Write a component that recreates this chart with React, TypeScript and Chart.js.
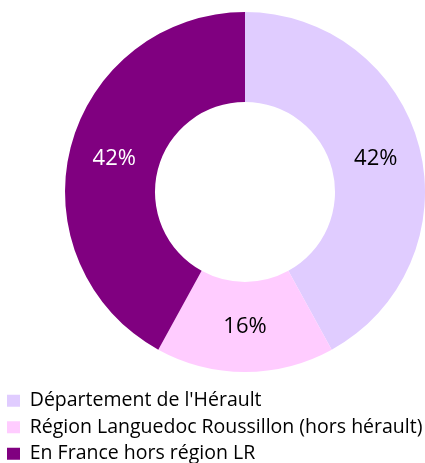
import React, { useEffect, useRef } from "react";
import { Chart, registerables } from "chart.js";

Chart.register(...registerables);

const categories = [
  "Département de l'Hérault",
  "Région Languedoc Roussillon (hors hérault)",
  "En France hors région LR",
];
const values = [42, 16, 42];
const valueLabels = ["42%", "16%", "42%"];
const colors = ["#E0CCFF", "#FFCCFF", "#800080"];
const labelColors = ["#000000", "#000000", "#FFFFFF"];

const FONT = "'Open Sans', Lato, sans-serif";

const layoutPlugin = {
  id: "customLayout",
  afterLayout(chart: any) {
    const left = 65, top = 12, right = 425, bottom = 372;
    chart.chartArea.left = left;
    chart.chartArea.top = top;
    chart.chartArea.right = right;
    chart.chartArea.bottom = bottom;
    chart.chartArea.width = right - left;
    chart.chartArea.height = bottom - top;
    const lg = chart.legend;
    if (lg) {
      const h = lg.bottom - lg.top;
      lg.top = 384;
      lg.bottom = 384 + h;
    }
  },
};

const labelPlugin = {
  id: "sliceLabels",
  afterDatasetsDraw(chart: any) {
    const ctx = chart.ctx;
    const meta = chart.getDatasetMeta(0);
    ctx.save();
    ctx.font = `22px ${FONT}`;
    ctx.textAlign = "center";
    ctx.textBaseline = "middle";
    meta.data.forEach((arc: any, i: number) => {
      const p = arc.tooltipPosition();
      ctx.fillStyle = labelColors[i];
      ctx.fillText(valueLabels[i], p.x, p.y);
    });
    ctx.restore();
  },
};

export default function App() {
  const ref = useRef<HTMLCanvasElement | null>(null);
  useEffect(() => {
    document.body.style.margin = "0";
    if (!ref.current) return;
    const chart = new Chart(ref.current, {
      type: "doughnut",
      data: {
        labels: categories,
        datasets: [
          {
            data: values,
            backgroundColor: colors,
            borderWidth: 0,
          },
        ],
      },
      options: {
        responsive: false,
        animation: false,
        cutout: "50%",
        plugins: {
          legend: {
            position: "bottom",
            align: "start",
            labels: {
              boxWidth: 13,
              boxHeight: 12,
              padding: 7,
              color: "#000000",
              font: { family: FONT, size: 19.5, lineHeight: 18.5 / 19.5 },
            },
          },
          tooltip: { enabled: false },
        },
      },
      plugins: [layoutPlugin, labelPlugin],
    });
    return () => chart.destroy();
  }, []);
  return (
    <div style={{ width: 425, height: 463 }}>
      <canvas ref={ref} width={425} height={463} style={{ width: 425, height: 463, display: "block" }} />
    </div>
  );
}
